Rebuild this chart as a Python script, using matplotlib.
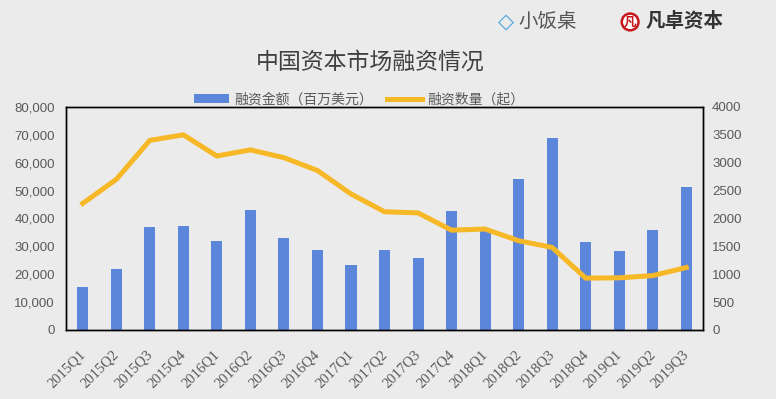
import numpy as np
import matplotlib.pyplot as plt
import matplotlib.transforms as mtransforms
from matplotlib.ticker import FuncFormatter

plt.rcParams['font.family'] = ['Noto Sans CJK SC', 'DejaVu Sans']

quarters = ['2015Q1', '2015Q2', '2015Q3', '2015Q4', '2016Q1', '2016Q2', '2016Q3', '2016Q4',
            '2017Q1', '2017Q2', '2017Q3', '2017Q4', '2018Q1', '2018Q2', '2018Q3', '2018Q4',
            '2019Q1', '2019Q2', '2019Q3']
amount = [15500, 21900, 37100, 37400, 32000, 43000, 33100, 28700,
          23300, 28700, 25900, 42700, 35600, 54200, 69000, 31600,
          28300, 35900, 51300]
count = [2270, 2700, 3400, 3500, 3120, 3230, 3090, 2860,
         2440, 2120, 2100, 1790, 1810, 1600, 1480, 930,
         935, 975, 1120]

bg = '#ebebeb'
gray = '#595959'

fig = plt.figure(figsize=(7.76, 3.99), dpi=100, facecolor=bg)
ax = fig.add_axes([0.085, 0.173, 0.821, 0.559], facecolor=bg)
x = np.arange(len(quarters))

bars = ax.bar(x, amount, width=0.33, color='#5b86d9', label='融资金额（百万美元）', zorder=2)
ax.set_xlim(-0.5, len(quarters) - 0.5)
ax.set_ylim(0, 80000)
ax.set_yticks(np.arange(0, 80001, 10000))
ax.yaxis.set_major_formatter(FuncFormatter(lambda v, p: f'{int(v):,}'))
ax.set_xticks(x)
ax.set_xticklabels(quarters, rotation=45, ha='right', family='Liberation Serif',
                   fontsize=10.5, color=gray)
ax.tick_params(axis='x', length=0, pad=13)
ax.tick_params(axis='y', length=0, pad=8, labelsize=9.5, labelcolor=gray)
for lab in ax.get_yticklabels():
    lab.set_family('Liberation Sans')
shift = mtransforms.ScaledTranslation(5 / 100, 0, fig.dpi_scale_trans)
for lab in ax.get_xticklabels():
    lab.set_transform(lab.get_transform() + shift)

ax2 = ax.twinx()
line, = ax2.plot(x, count, color='#f6b826', lw=3.6, label='融资数量（起）', zorder=3)
ax2.set_ylim(0, 4000)
ax2.set_yticks(np.arange(0, 4001, 500))
ax2.tick_params(axis='y', length=0, pad=6.5, labelsize=9.5, labelcolor=gray)
for lab in ax2.get_yticklabels():
    lab.set_family('Liberation Sans')

for a in (ax, ax2):
    for s in a.spines.values():
        s.set_color('black')
        s.set_linewidth(1)

ax.legend([bars, line], ['融资金额（百万美元）', '融资数量（起）'], loc='lower center',
          bbox_to_anchor=(0.46, 0.97), ncol=2, frameon=False,
          labelcolor=gray, handlelength=2.5, handleheight=0.6, columnspacing=1.0,
          handletextpad=0.4, borderaxespad=0.1, prop={'weight': 'light', 'size': 10})

fig.text(0.477, 0.843, '中国资本市场融资情况', ha='center', va='center',
         fontsize=16.5, color='#404040', fontweight='light')

# logos at top right
fig.text(0.668, 0.945, '小饭桌', ha='left', va='center', fontsize=14, color='#555555',
         fontweight='light')
fig.text(0.652, 0.945, '◇', ha='center', va='center', fontsize=15, color='#4aa3df',
         family='DejaVu Sans', fontweight='bold')
fig.text(0.812, 0.945, '凡', ha='center', va='center', fontsize=9, color='#c8161d',
         fontweight='bold',
         bbox=dict(boxstyle='circle,pad=0.15', fc='white', ec='#c8161d', lw=1.8))
fig.text(0.832, 0.945, '凡卓资本', ha='left', va='center', fontsize=14, color='#333333',
         fontweight='bold', style='italic')

fig.savefig('out.png', dpi=100, facecolor=bg)
